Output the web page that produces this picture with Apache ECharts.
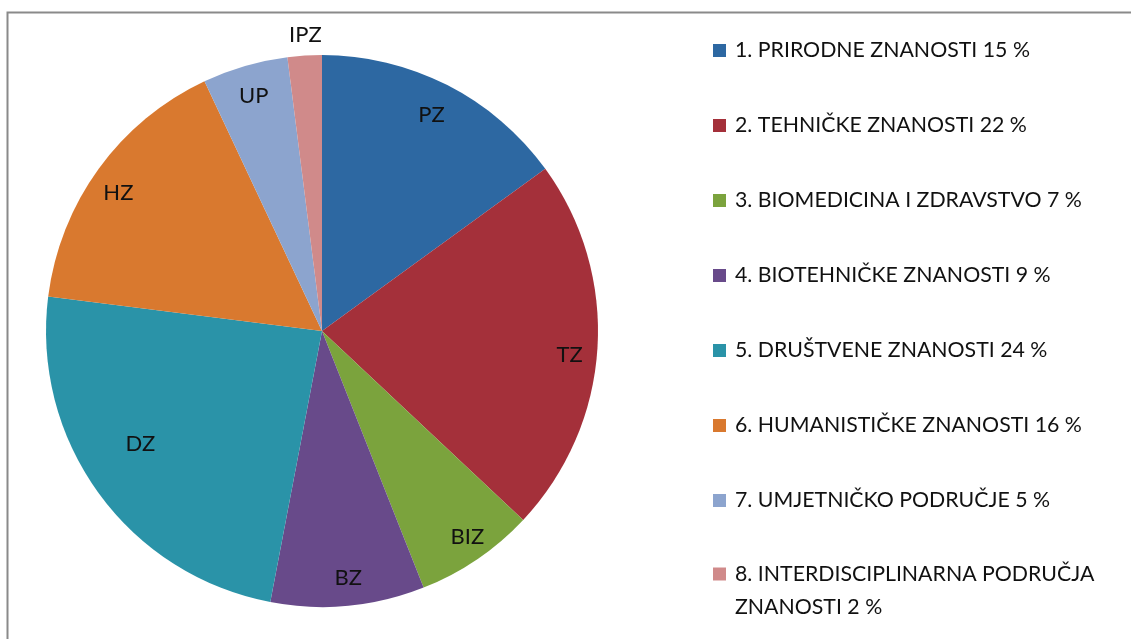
<!DOCTYPE html>
<html><head><meta charset="utf-8">
<script src="https://cdn.jsdelivr.net/npm/echarts@6/dist/echarts.min.js"></script>
<style>html,body{margin:0;padding:0;background:#fff}#c{width:1131px;height:639px}</style>
</head><body><div id="c"></div>
<script>
const abbrevs = ['PZ','TZ','BIZ','BZ','DZ','HZ','UP','IPZ'];
const legendNames = ['1. PRIRODNE ZNANOSTI 15 %','2. TEHNIČKE ZNANOSTI 22 %','3. BIOMEDICINA I ZDRAVSTVO 7 %','4. BIOTEHNIČKE ZNANOSTI 9 %','5. DRUŠTVENE ZNANOSTI 24 %','6. HUMANISTIČKE ZNANOSTI 16 %','7. UMJETNIČKO PODRUČJE 5 %','8. INTERDISCIPLINARNA PODRUČJA\nZNANOSTI 2 %'];
const values = [15,22,7,9,24,16,5,2];
const colors = ['#2D68A2','#A4303A','#7BA33D','#684A8A','#2A93A8','#D9792F','#8CA4CE','#D08A8A'];

// label nudges (layout only)
const labelNudge = [[-3,5],[0,8],[6,1],[3,0],[19,-33],[-3,8],[1,3],[-1,-49]];

const FONT = 'Lato';
const chart = echarts.init(document.getElementById('c'));
const mainData = values.map((v,i)=>({name:legendNames[i], value:v, itemStyle:{color:colors[i]}}));
const labelData = values.map((v,i)=>({name:legendNames[i], value:v, label:{formatter:abbrevs[i], offset:labelNudge[i]}}));
const legendText = {fontFamily:FONT, fontSize:21.3, color:'#111', lineHeight:33, padding:[0,0,0,4]};
const n = legendNames.length;
chart.setOption({
  animation:false,
  graphic:[{type:'polyline', shape:{points:[[7.5,700],[7.5,12.5],[1200,12.5]]}, style:{stroke:'#8a8a8a', lineWidth:2, fill:null}, silent:true}],
  legend:[{
    orient:'vertical', left:713, top:34, height:800, padding:0, itemWidth:13, itemHeight:13, itemGap:42,
    icon:'rect', textStyle:legendText, data: legendNames.slice(0,n-1)
  },{
    orient:'vertical', left:713, top:524.5, height:800, padding:0, itemWidth:13, itemHeight:13,
    icon:'rect', textStyle:legendText, data: legendNames.slice(n-1),
    formatter: name => '\n' + name
  }],
  series:[
    {type:'pie', center:[322,331], radius:[0,276], startAngle:90, clockwise:true,
     label:{show:false}, labelLine:{show:false}, data:mainData, silent:true},
    {type:'pie', center:[322,331], radius:[214,276], startAngle:90, clockwise:true,
     silent:true, itemStyle:{color:'rgba(0,0,0,0)'},
     label:{show:true, position:'inside', fontFamily:FONT, fontSize:22, color:'#111'},
     labelLine:{show:false}, data:labelData, legendHoverLink:false}
  ]
});
</script></body></html>
